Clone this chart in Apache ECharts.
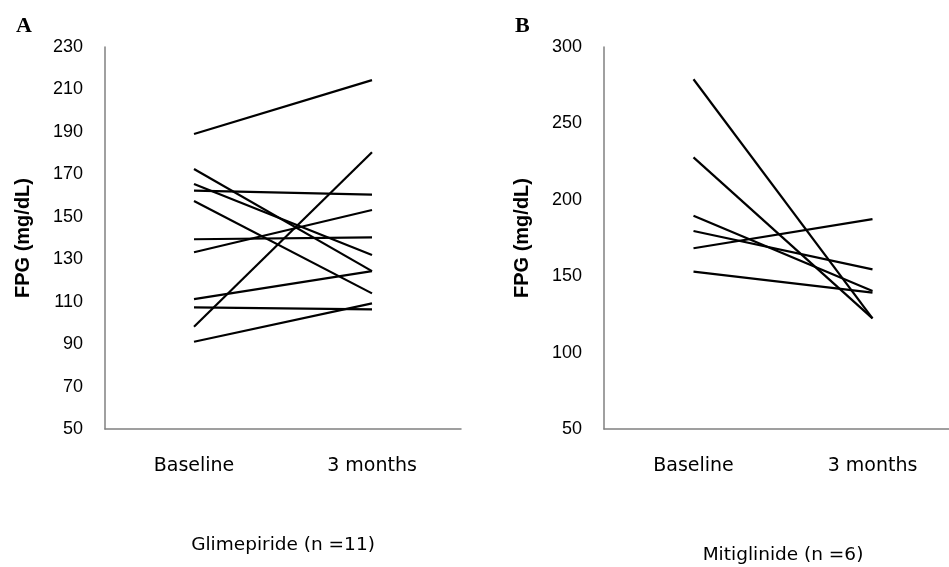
<!DOCTYPE html>
<html>
<head>
<meta charset="utf-8">
<script src="https://cdn.jsdelivr.net/npm/echarts@6/dist/echarts.min.js"></script>
<style>html,body{margin:0;padding:0;background:#fff}#c{width:949px;height:567px}</style>
</head>
<body>
<div id="c"></div>
<script>
var categories = ['Baseline', '3 months'];
var yTicksA = [50, 70, 90, 110, 130, 150, 170, 190, 210, 230];
var yTicksB = [50, 100, 150, 200, 250, 300];
// Glimepiride (n = 11): FPG at baseline and at 3 months
var glimBaseline = [189, 172.5, 165.4, 162.3, 157.4, 139.4, 133.3, 111.2, 107.3, 98.2, 91.1];
var glim3m       = [214.4, 124.4, 132, 160.4, 113.9, 140.3, 153.2, 124.4, 106.4, 180.4, 109.2];
// Mitiglinide (n = 6)
var mitiBaseline = [278.9, 227.8, 189.6, 179.6, 168.3, 153];
var miti3m       = [122.4, 122.4, 140.3, 154.5, 187.4, 139.2];

var chart = echarts.init(document.getElementById('c'), null, {renderer: 'canvas'});

function buildSeries(base, after, idx) {
  return base.map(function (v, i) {
    return {
      type: 'line', xAxisIndex: idx, yAxisIndex: idx,
      data: [v, after[i]], symbol: 'none', silent: true,
      lineStyle: {color: '#000', width: 2.2}
    };
  });
}

var axisLineStyle = {show: true, lineStyle: {color: '#808080', width: 1.5}};
function xAx(gi, name, gap) {
  return {
    type: 'category', gridIndex: gi, data: categories, boundaryGap: true,
    axisLine: axisLineStyle, axisTick: {show: false},
    axisLabel: {color: '#000', fontFamily: 'DejaVu Sans', fontSize: 19, margin: 28},
    name: name, nameLocation: 'middle', nameGap: gap,
    nameTextStyle: {color: '#000', fontFamily: 'DejaVu Sans', fontSize: 18.5}
  };
}
function yAx(gi, ticks) {
  return {
    type: 'value', gridIndex: gi, min: ticks[0], max: ticks[ticks.length - 1],
    interval: ticks[1] - ticks[0],
    axisLine: axisLineStyle, axisTick: {show: false}, splitLine: {show: false},
    axisLabel: {color: '#000', fontFamily: 'Liberation Sans', fontSize: 18, margin: 22},
    name: 'FPG (mg/dL)', nameLocation: 'middle', nameRotate: 90, nameGap: 72,
    nameTextStyle: {color: '#000', fontFamily: 'Liberation Sans', fontWeight: 'bold', fontSize: 20}
  };
}

chart.setOption({
  animation: false,
  backgroundColor: '#fff',
  title: [
    {text: 'A', left: 11, top: 10, textStyle: {fontFamily: 'Liberation Serif', fontWeight: 'bold', fontSize: 22, color: '#000'}},
    {text: 'B', left: 510, top: 10, textStyle: {fontFamily: 'Liberation Serif', fontWeight: 'bold', fontSize: 22, color: '#000'}}
  ],
  grid: [
    {left: 105, top: 47, width: 356, height: 382, outerBoundsMode: 'none', containLabel: false},
    {left: 604, top: 47, width: 358, height: 382, outerBoundsMode: 'none', containLabel: false}
  ],
  xAxis: [xAx(0, 'Glimepiride (n =11)', 107), xAx(1, 'Mitiglinide (n =6)', 117)],
  yAxis: [yAx(0, yTicksA), yAx(1, yTicksB)],
  series: buildSeries(glimBaseline, glim3m, 0).concat(buildSeries(mitiBaseline, miti3m, 1))
});
</script>
</body>
</html>
